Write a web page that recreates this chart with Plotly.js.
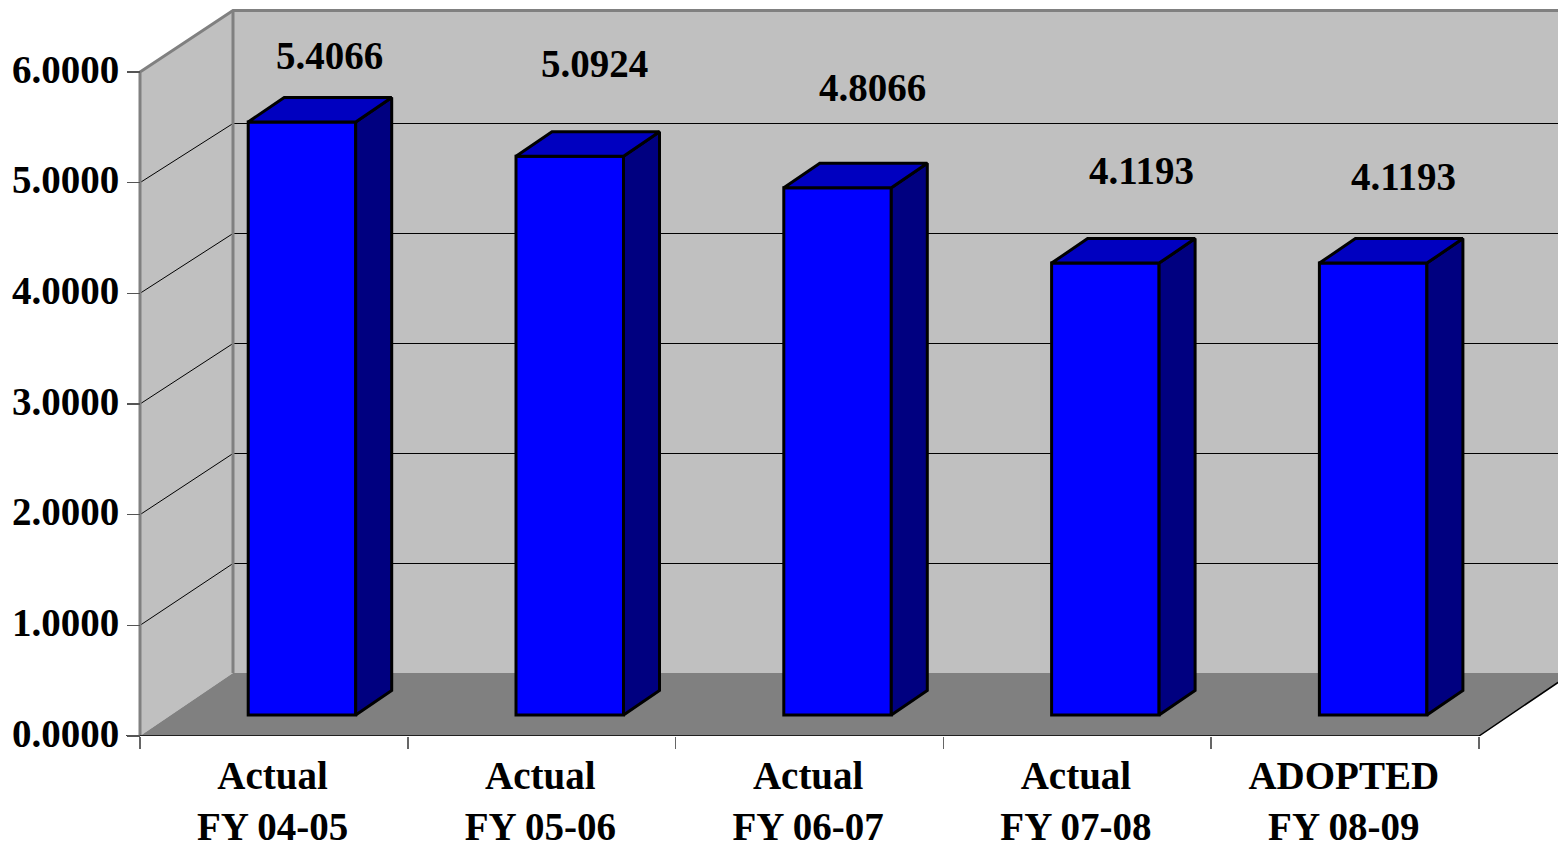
<!DOCTYPE html>
<html>
<head>
<meta charset="utf-8">
<script src="https://cdn.plot.ly/plotly-3.0.1.min.js"></script>
<style>html,body{margin:0;padding:0;background:#fff;overflow:hidden}</style>
</head>
<body>
<div id="chart" style="width:1558px;height:841px"></div>
<script>
// Fiscal-year rates
const categories = ["Actual<br>FY 04-05", "Actual<br>FY 05-06", "Actual<br>FY 06-07", "Actual<br>FY 07-08", "ADOPTED<br>FY 08-09"];
const rates = [5.4066, 5.0924, 4.8066, 4.1193, 4.1193];
const rateLabels = ["5.4066", "5.0924", "4.8066", "4.1193", "4.1193"];
const yTicks = [0, 1, 2, 3, 4, 5, 6];
const yTickLabels = ["0.0000", "1.0000", "2.0000", "3.0000", "4.0000", "5.0000", "6.0000"];

// Pixel shifts of the value labels from each bar's top centre
const labelShiftX = [28, 25, 35, 36, 30];
const labelShiftY = [66, 93, 100, 93, 87];

// Scene geometry: the front plane uses axes x/y, the plane holding the bars uses x2/y2
const W = 1558, H = 841, ML = 120, MB = 105;
const catPx = 267.8, unitPx = 110.67, gridUnitPx = 110, barUnitPx = 109.7;
const frontLeftPx = 140, frontBasePx = 736;
const barPlaneLeftPx = 171, barPlaneBasePx = 715;
const wallDx = 93 / catPx, wallRise = 63 / unitPx, wallTop = 725.5 / unitPx;
const barCentre = 0.489, barWidth = 107.5 / catPx;
const barDx = 36 / catPx, barDy = 24.5 / barUnitPx;
const plotW = W - ML;

const font = {family: "'Liberation Serif','Times New Roman',serif", size: 39, color: "#000", weight: 700};
const n = categories.length;

const poly = (xs, ys, fill, lineColor, lineWidth, axes) => Object.assign({
  type: "scatter", mode: "lines", x: xs, y: ys, fill: "toself", fillcolor: fill,
  line: {color: lineColor, width: lineWidth, shape: "linear"}, hoverinfo: "skip", showlegend: false
}, axes || {});
const path = (xs, ys, color, width) => ({
  type: "scatter", mode: "lines", x: xs, y: ys, line: {color, width},
  hoverinfo: "skip", showlegend: false, connectgaps: false
});

const traces = [];
// Walls and floor
traces.push(poly([wallDx, n + wallDx, n + wallDx, wallDx, wallDx], [wallRise, wallRise, wallTop, wallTop, wallRise], "#C0C0C0", "rgba(0,0,0,0)", 0));
traces.push(poly([0, wallDx, wallDx, 0, 0], [0, wallRise, wallTop, 6, 0], "#C0C0C0", "rgba(0,0,0,0)", 0));
traces.push(poly([0, wallDx, n + wallDx, n, 0], [0, wallRise, wallRise, 0, 0], "#808080", "rgba(0,0,0,0)", 0));

// Gridlines across the side wall and the back wall
const gx = [], gy = [];
[1, 2, 3, 4, 5].forEach(v => {
  const back = (62.5 + gridUnitPx * v) / unitPx;
  gx.push(0, wallDx, n + wallDx, null);
  gy.push(v, back, back, null);
});
traces.push(path(gx, gy, "#000", 1));

// Wall outline
traces.push(path([0, 0, wallDx, n + wallDx], [0, 6, wallTop, wallTop], "#808080", 3));
traces.push(path([wallDx, wallDx], [wallRise, wallTop], "#808080", 3));

// Front edge of the floor
traces.push(path([-14 / catPx, n, n + wallDx], [0, 0, wallRise], "#000", 1.5));

// Front faces of the bars
const centres = rates.map((_, i) => i + barCentre);
traces.push({
  type: "bar", x: centres, y: rates, width: barWidth, xaxis: "x2", yaxis: "y2",
  marker: {color: "#0000FF", line: {color: "#000", width: 3}}, hoverinfo: "skip", showlegend: false
});
// Side and top faces of the bars
const on2 = {xaxis: "x2", yaxis: "y2"};
rates.forEach((v, i) => {
  const l = centres[i] - barWidth / 2, r = centres[i] + barWidth / 2;
  traces.push(poly([r, r + barDx, r + barDx, r, r], [0, barDy, v + barDy, v, 0], "#000080", "#000", 3, on2));
  traces.push(poly([l, l + barDx, r + barDx, r, l], [v, v + barDy, v + barDy, v, v], "#0000C0", "#000", 3, on2));
});

const annotations = rates.map((v, i) => ({
  xref: "x2", yref: "y2", x: centres[i], y: v, text: rateLabels[i], showarrow: false,
  xshift: labelShiftX[i], yshift: labelShiftY[i], xanchor: "center", yanchor: "middle", font
}));

const layout = {
  width: W, height: H, autosize: false,
  margin: {l: ML, r: 0, t: 0, b: MB, pad: 0},
  paper_bgcolor: "#fff", plot_bgcolor: "rgba(0,0,0,0)", showlegend: false, barmode: "overlay",
  xaxis: {
    range: [(ML - frontLeftPx) / catPx, (W - frontLeftPx) / catPx], fixedrange: true,
    showgrid: false, zeroline: false, showline: false,
    tickmode: "array", tickvals: categories.map((_, i) => i + 0.495), ticktext: categories,
    ticks: "", tickangle: 0, tickfont: font, ticklabelstandoff: 13,
    minor: {tickmode: "array", tickvals: [0, 1, 2, 3, 4, 5], ticks: "outside", ticklen: 12, tickwidth: 1.5, tickcolor: "#666", showgrid: false}
  },
  yaxis: {
    range: [0, frontBasePx / unitPx], fixedrange: true,
    anchor: "free", position: (frontLeftPx - ML) / plotW,
    showgrid: false, zeroline: false, showline: false,
    tickmode: "array", tickvals: yTicks, ticktext: yTickLabels, ticklabelshift: -3,
    ticks: "outside", ticklen: 13, tickwidth: 1.5, tickcolor: "#555", tickfont: font
  },
  xaxis2: {
    overlaying: "x", visible: false, fixedrange: true,
    range: [(ML - barPlaneLeftPx) / catPx, (W - barPlaneLeftPx) / catPx]
  },
  yaxis2: {
    overlaying: "y", visible: false, fixedrange: true,
    range: [(barPlaneBasePx - frontBasePx) / barUnitPx, barPlaneBasePx / barUnitPx]
  },
  annotations
};

Plotly.newPlot("chart", traces, layout, {displayModeBar: false, staticPlot: true});
</script>
</body>
</html>
